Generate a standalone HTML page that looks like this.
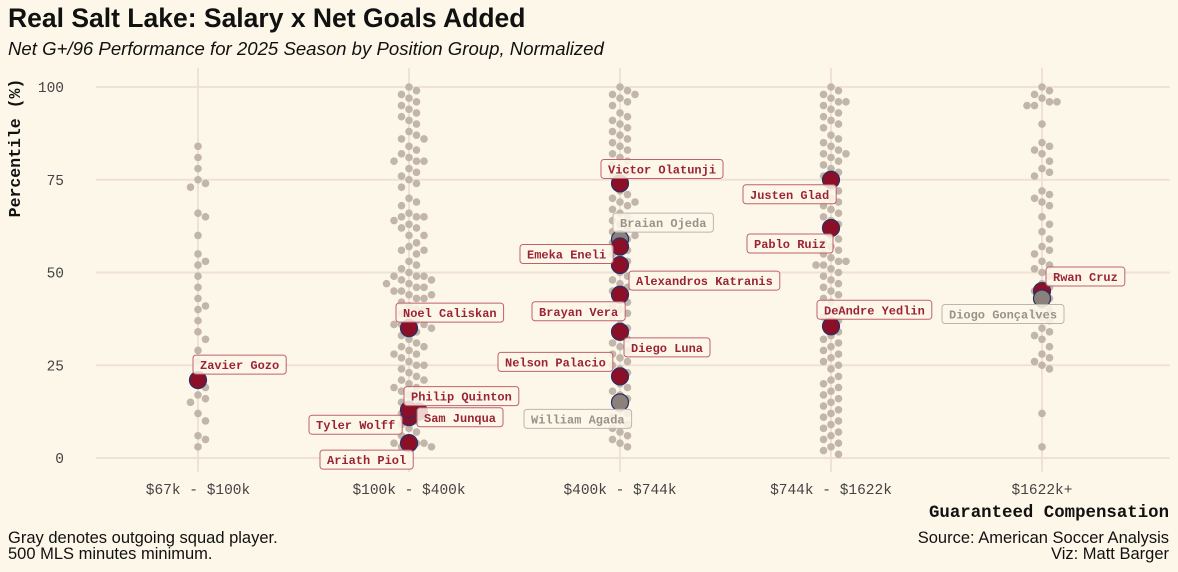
<!DOCTYPE html>
<html><head><meta charset="utf-8"><style>
body{margin:0;background:#fdf7ea;}
svg{display:block;}
.t{font-family:"Liberation Sans",sans-serif;}
.m{font-family:"Liberation Mono",monospace;}
</style></head><body>
<svg id="c" width="1178" height="572" viewBox="0 0 1178 572">
<rect width="1178" height="572" fill="#fdf7ea"/>
<text class="t" x="8" y="27" font-size="26.5" font-weight="bold" fill="#111">Real Salt Lake: Salary x Net Goals Added</text>
<text class="t" x="8" y="55" font-size="18.6" font-style="italic" fill="#111">Net G+/96 Performance for 2025 Season by Position Group, Normalized</text>
<text class="m" transform="translate(20,148) rotate(-90)" text-anchor="middle" font-size="16.5" font-weight="bold" fill="#111">Percentile (%)</text>
<text class="m" x="1169" y="517" text-anchor="end" font-size="17.4" font-weight="bold" fill="#111">Guaranteed Compensation</text>
<text class="t" x="8" y="543" font-size="16.5" fill="#111">Gray denotes outgoing squad player.</text>
<text class="t" x="8" y="559" font-size="16.5" fill="#111">500 MLS minutes minimum.</text>
<text class="t" x="1169" y="543" text-anchor="end" font-size="16.5" fill="#111">Source: American Soccer Analysis</text>
<text class="t" x="1169" y="559" text-anchor="end" font-size="16.5" fill="#111">Viz: Matt Barger</text>
<g id="grid"></g><g id="bg"></g><g id="hl"></g><g id="lab"></g>
</svg>
<script>
const categories=["$67k - $100k","$100k - $400k","$400k - $744k","$744k - $1622k","$1622k+"];
const yTicks=[0,25,50,75,100];
const bg0=[84,81,78,75,74,73,66,65,60,55,53,52,49,46,43,41,40,37,34,32,29,26,20,19,17,16,15,12,10,6,5,3];
const bg1=[100,99,98,97,96,95,94,93,92,91,90,88,87,86,86,84,83,82,81,80,80,80,78,77,76,75,74,73,70,69,68,66,65,65,65,64,63,62,62,60,60,58,57,56,56,55,53,52,51,50,49,49,49,48,48,47,47,46,46,45,45,44,44,43,43,42,41,40,40,39,38,37,36,36,36,35,35,34,33,32,31,30,30,29,28,28,27,26,25,25,24,23,22,21,21,20,19,19,18,17,16,15,14,13,13,12,11,10,9,8,7,6,5,4,4,4,3,3];
const bg2=[100,99,98,98,97,96,95,93,92,91,90,89,88,87,86,85,84,83,82,81,80,79,78,77,76,72,71,70,69,69,68,67,66,65,64,63,62,61,60,60,59,58,57,56,55,54,53,50,49,48,47,46,45,43,42,41,40,39,38,36,35,33,32,31,30,29,28,27,26,25,24,23,20,19,18,17,16,13,12,11,10,9,8,7,6,5,4,3];
const bg3=[100,99,98,97,96,96,95,94,93,92,91,90,89,87,86,85,84,83,82,82,81,80,79,78,77,76,73,72,70,69,68,67,66,65,64,63,60,59,58,57,56,55,54,53,53,52,52,51,50,49,48,47,46,45,44,43,42,40,39,38,37,36,34,33,32,31,30,29,28,27,26,25,24,22,21,20,19,18,17,16,15,14,13,12,11,10,9,8,7,6,5,4,3,2,1];
const bg4=[100,99,98,97,96,96,95,95,90,85,84,83,82,80,78,77,76,72,71,70,69,68,65,63,61,59,57,56,55,53,52,51,50,49,47,46,45,44,43,41,40,39,38,37,35,34,33,32,30,28,27,26,25,24,12,3];
const bgGroups=[bg0,bg1,bg2,bg3,bg4];
const players=["Zavier Gozo","Noel Caliskan","Philip Quinton","Tyler Wolff","Sam Junqua","Ariath Piol","Victor Olatunji","Braian Ojeda","Emeka Eneli","Alexandros Katranis","Brayan Vera","Diego Luna","Nelson Palacio","William Agada","Justen Glad","Pablo Ruiz","DeAndre Yedlin","Rwan Cruz","Diogo Gonçalves"];
const playerGroup=[0,1,1,1,1,1,2,2,2,2,2,2,2,2,3,3,3,4,4];
const playerPct=[21,35,12.5,11,13,4,74,59,57,52,44,34,22,15,75,62,35.5,45,43];
const playerOutgoing=[0,0,0,0,0,0,0,1,0,0,0,0,0,1,0,0,0,0,1];
// label box offsets (px) relative to point: dx of left edge, dy of box top
const labelDX=[-5,-13,-15,-100,8,-89,-19,-7,-100,9,-88,4,-122,-96,-88,-84,-14,4,-100];
const labelDY=[-25,-25,-25,-2,-2,7,-24,-26,-2,6,7,6,-24,7,5,6,-26,-24,6];
const playerNudge=[0,0,10,0,0,0,0,0,0,0,0,0,0,0,0,0,0,0,0];

const NS="http://www.w3.org/2000/svg";
const X0=198,XS=211,Y0=458,YS=3.71;
const xs=i=>X0+i*XS, ys=v=>Y0-v*YS;
function mk(tag,attrs,parent){const e=document.createElementNS(NS,tag);for(const k in attrs)e.setAttribute(k,attrs[k]);parent.appendChild(e);return e;}
const grid=document.getElementById('grid'),bgG=document.getElementById('bg'),hl=document.getElementById('hl'),lab=document.getElementById('lab');
yTicks.forEach(t=>{
  const l=mk('line',{x1:96,x2:1170,y1:ys(t),y2:ys(t),stroke:'#efe2d4','stroke-width':2},grid);
  
  
  const tx=mk('text',{x:64,y:ys(t)+5,'text-anchor':'end','font-size':14.5,fill:'#444',class:'m'},grid);
  tx.textContent=t;
  
  
});
categories.forEach((c,i)=>{
  const l=mk('line',{x1:xs(i),x2:xs(i),y1:68,y2:472,stroke:'#efe2d4','stroke-width':2},grid);
  
  
  const tx=mk('text',{x:xs(i),y:494,'text-anchor':'middle','font-size':14.5,fill:'#444',class:'m'},grid);
  tx.textContent=c;
  
  
});
bgGroups.forEach((arr,g)=>{
  const placed=[];
  arr.slice().sort((a,b)=>b-a).forEach(v=>{
    const y=ys(v);let x=xs(g);
    for(let k=0;k<20;k++){
      const off=(k%2?1:-1)*Math.ceil(k/2)*7.5;
      const cx=xs(g)+off;
      if(placed.every(p=>Math.hypot(p[0]-cx,p[1]-y)>=7.5)){x=cx;break;}
    }
    placed.push([x,y]);
    const c=mk('circle',{cx:x,cy:y,r:3.8,fill:'#c2b6aa'},bgG);
    
    
  });
});
players.forEach((p,i)=>{
  const cx=xs(playerGroup[i])+playerNudge[i],cy=ys(playerPct[i]);
  const c=mk('circle',{cx:cx,cy:cy,r:8.5,fill:playerOutgoing[i]?'#8a827a':'#8b1027',stroke:'#2b2f66','stroke-width':1.2},hl);
  
  
  const col=playerOutgoing[i]?'#9a918a':'#9b2335';
  const w=p.length*7.2+14;
  const bx=cx+labelDX[i],by=cy+labelDY[i];
  const r=mk('rect',{x:bx,y:by,width:w,height:19,rx:3,fill:'#fdf7ea','fill-opacity':0.85,stroke:playerOutgoing[i]?'#bdb4ac':'#c0606e','stroke-width':1},lab);
  
  
  const t=mk('text',{x:bx+7,y:by+14,'font-size':12,'font-weight':'bold',fill:col,class:'m'},lab);
  t.textContent=p;
  
  
});
</script>
</body></html>
